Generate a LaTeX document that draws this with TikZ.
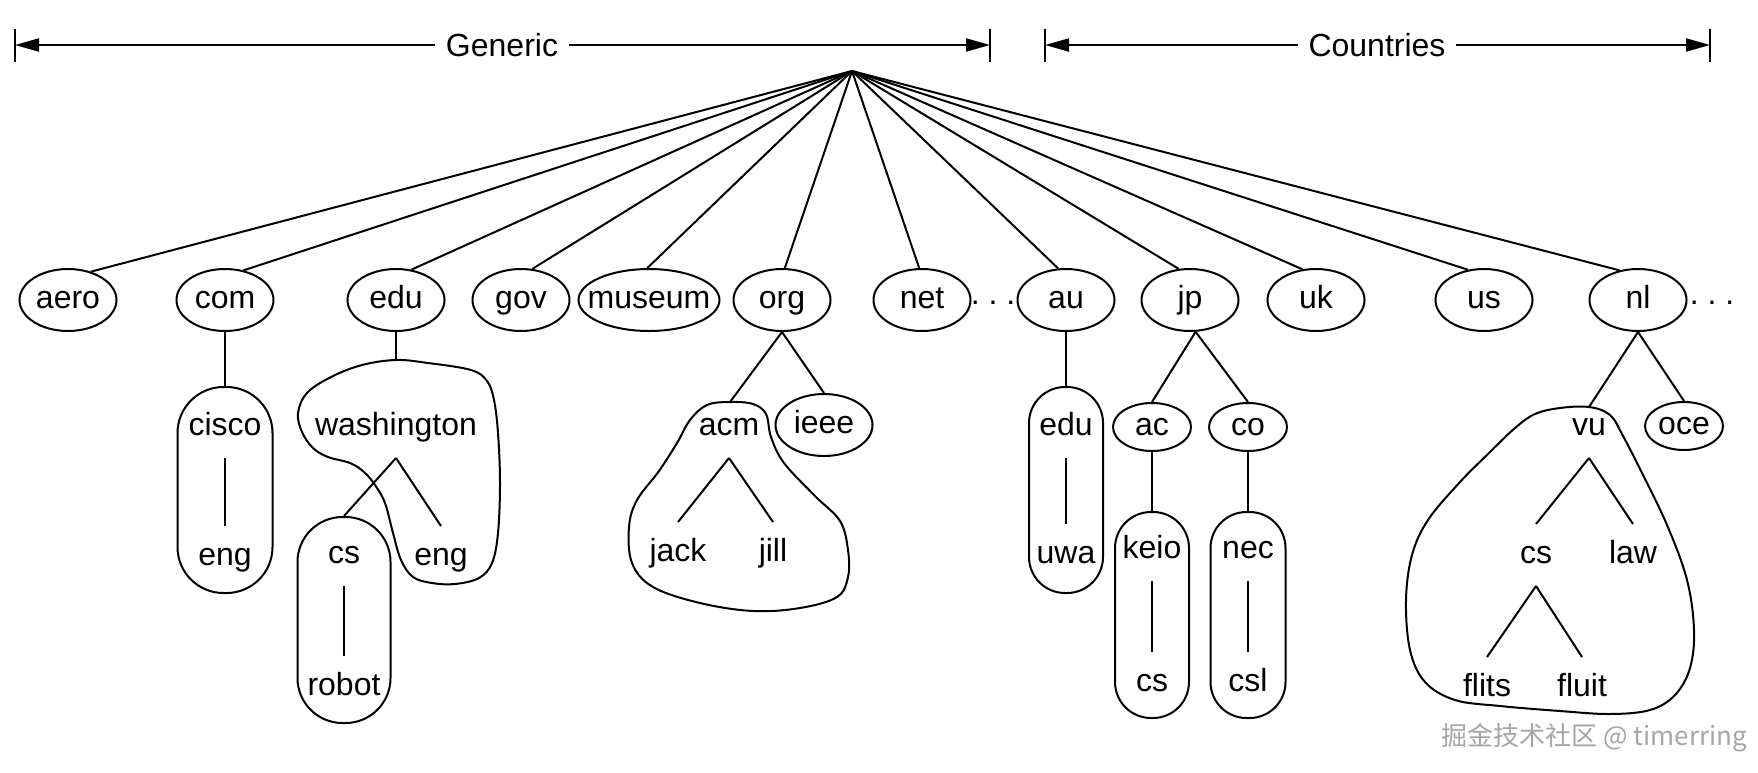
\documentclass[tikz,border=0pt]{standalone}
\usepackage{fontspec}
\setmainfont{Liberation Sans}
\newfontfamily\cjkfont{Noto Sans CJK SC}
\usetikzlibrary{arrows.meta,shapes.geometric}
\newcommand\zw[1]{\makebox[0pt]{#1}}
\begin{document}
\begin{tikzpicture}[x=1pt,y=-1pt,line width=2pt,
  every node/.style={font=\fontsize{32}{38}\selectfont},
  topnode/.style={ellipse,draw,minimum width=97pt,minimum height=62pt,inner sep=0pt,text height=16.6pt,text depth=0pt},
  smallnode/.style={topnode,minimum width=78pt,minimum height=48pt},
  lbl/.style={inner xsep=2pt,inner ysep=21.7pt,text height=16.6pt,text depth=0pt},
  capsule/.style={draw,rectangle,inner sep=0pt,minimum height=206pt},
  hdr/.style={inner xsep=10pt,inner ysep=0pt,text height=23pt,text depth=0pt},
  dimarrow/.style={-{Triangle[length=24pt,width=13pt]}},
  blob/.style={smooth cycle,tension=0.6},
  dotsnode/.style={anchor=base,inner sep=0pt},
]
\useasboundingbox (0,0) rectangle (1758,772);
\fill[white] (0,0) rectangle (1758,772);

% header dimension lines
\coordinate (gL) at (15,45);
\coordinate (gR) at (990,45);
\coordinate (cL) at (1045,45);
\coordinate (cR) at (1710,45);
\node[hdr] (generic) at (502,45) {Generic};
\node[hdr] (countries) at (1377,45) {Countries};
\draw[dimarrow] (generic) -- (gL);
\draw[dimarrow] (generic) -- (gR);
\draw[dimarrow] (countries) -- (cL);
\draw[dimarrow] (countries) -- (cR);
\foreach \c in {gL,gR,cL,cR}
  \draw ([yshift=16.5pt]\c) -- ([yshift=-16.5pt]\c);

% root and top-level domains
\coordinate (root) at (852,71);
\node[topnode] (aero) at (68,300) {\zw{aero}};
\node[topnode] (com) at (225,300) {\zw{com}};
\node[topnode] (edu) at (396,300) {\zw{edu}};
\node[topnode] (gov) at (521,300) {\zw{gov}};
\node[topnode,minimum width=141pt] (museum) at (649,300) {\zw{museum}};
\node[topnode] (org) at (782,300) {\zw{org}};
\node[topnode] (net) at (922,300) {\zw{net}};
\node[topnode] (au) at (1066,300) {\zw{au}};
\node[topnode] (jp) at (1190,300) {\zw{jp}};
\node[topnode] (uk) at (1316,300) {\zw{uk}};
\node[topnode] (us) at (1484,300) {\zw{us}};
\node[topnode] (nl) at (1638,300) {\zw{nl}};
\node[dotsnode] (dotsA) at (993,304) {.\ .\ .};
\node[dotsnode] (dotsB) at (1712,304) {.\ .\ .};

\foreach \n/\a in {aero/51,com/58,edu/63,gov/70,museum/93,org/85,net/95,au/104,jp/110,uk/114,us/118,nl/122}
  \draw (root) -- (\n.\a);

% com subtree
\node[capsule,minimum width=95pt,rounded corners=46pt] (ciscobox) at (225,490) {};
\node[lbl] (cisco) at (225,427) {cisco};
\node[lbl] (ceng) at (225,557) {eng};
\draw (com.south) -- (ciscobox.north);
\draw (cisco) -- (ceng);

% edu subtree
\coordinate (washtop) at (396,360);
\draw plot[blob] coordinates {(396,360) (428,363) (471,370) (487,381) (494,400) (498,433) (500,483) (498,533) (492,563) (479,578) (455,584) (432,583) (413,577) (401,560) (393,533) (385,503) (375,485) (364,472) (350,463) (328,457) (313,448) (302,432) (298,413) (307,393) (331,377) (362,365)};
\node[lbl] (wash) at (396,427) {washington};
\node[lbl] (weng) at (441,557) {eng};
\node[capsule,minimum width=93pt,rounded corners=45pt] (robotbox) at (344,620) {};
\node[lbl] (wcs) at (344,555) {cs};
\node[lbl] (robot) at (344,687) {robot};
\draw (edu.south) -- (washtop);
\draw (wash.south) -- (robotbox.north);
\draw (wash.south) -- (weng.north);
\draw (wcs) -- (robot);

% org subtree
\coordinate (acmtop) at (730,402);
\draw plot[blob] coordinates {(730,402) (753,404) (766,414) (771,437) (784,463) (815,496) (840,521) (848,550) (848,577) (837,597) (800,608) (753,611) (700,603) (653,587) (632,563) (629,527) (637,500) (659,471) (677,443) (690,420) (707,405)};
\node[lbl] (acm) at (729,427) {acm};
\node[lbl] (jack) at (678,553) {jack};
\node[lbl] (jill) at (773,553) {jill};
\node[topnode] (ieee) at (824,425) {\zw{ieee}};
\draw (org.south) -- (acmtop);
\draw (org.south) -- (ieee.north);
\draw (acm.south) -- (jack.north);
\draw (acm.south) -- (jill.north);

% au subtree
\node[capsule,minimum width=74pt,rounded corners=36pt] (aubox) at (1066,490) {};
\node[lbl] (auedu) at (1066,427) {edu};
\node[lbl] (uwa) at (1066,555) {uwa};
\draw (au.south) -- (aubox.north);
\draw (auedu) -- (uwa);

% jp subtree
\node[smallnode] (ac) at (1152,427) {\zw{ac}};
\node[smallnode] (co) at (1248,427) {\zw{co}};
\draw (jp.-80) -- (ac.north);
\draw (jp.-80) -- (co.north);
\node[capsule,minimum width=74pt,rounded corners=36pt] (keiobox) at (1152,615) {};
\node[capsule,minimum width=75pt,rounded corners=36pt] (necbox) at (1248,615) {};
\node[lbl] (keio) at (1152,550) {keio};
\node[lbl] (kcs) at (1152,683) {cs};
\node[lbl] (nec) at (1248,550) {nec};
\node[lbl] (csl) at (1248,683) {csl};
\draw (ac.south) -- (keiobox.north);
\draw (co.south) -- (necbox.north);
\draw (keio) -- (kcs);
\draw (nec) -- (csl);

% nl subtree
\coordinate (vutop) at (1589,407);
\draw plot[blob] coordinates {(1589,407) (1610,415) (1623,436) (1641,471) (1667,525) (1687,580) (1694,630) (1690,668) (1675,695) (1650,710) (1610,714) (1560,711) (1500,706) (1455,700) (1425,682) (1410,650) (1406,600) (1412,555) (1428,520) (1460,482) (1490,452) (1515,428) (1535,414) (1560,408)};
\node[lbl] (vu) at (1589,427) {vu};
\node[lbl] (vcs) at (1536,555) {cs};
\node[lbl] (law) at (1633,555) {law};
\node[lbl] (flits) at (1487,688) {flits};
\node[lbl] (fluit) at (1582,688) {fluit};
\node[smallnode] (oce) at (1684,426) {\zw{oce}};
\draw (nl.south) -- (vutop);
\draw (nl.south) -- (oce.north);
\draw (vu.south) -- (vcs.north);
\draw (vu.south) -- (law.north);
\draw (vcs.south) -- (flits.north);
\draw (vcs.south) -- (fluit.north);

% watermark
\node[font=\fontsize{26}{30}\selectfont,text=black!35,anchor=east,inner sep=0pt] (wm) at (1748,738) {\cjkfont 掘金技术社区 @ timerring};
\end{tikzpicture}
\end{document}
